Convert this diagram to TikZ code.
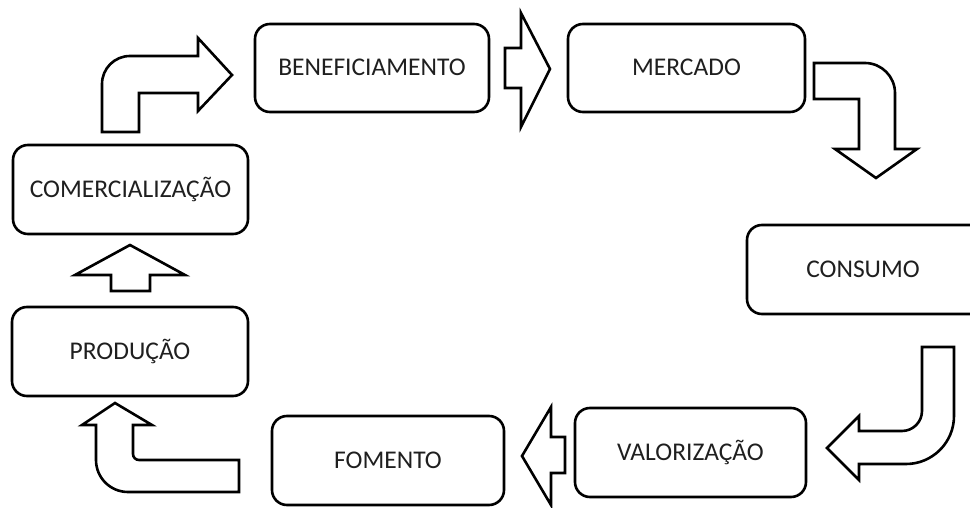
\documentclass[tikz,border=0pt]{standalone}
\usepackage{fontspec}
\setmainfont{Carlito}
\begin{document}
\begin{tikzpicture}[x=1pt,y=-1pt,
  box/.style={draw, line width=2.6pt, rounded corners=15pt, align=center,
    font=\fontsize{25.5}{30}\selectfont, inner sep=0pt, text=black!88,
    text height=16pt, text depth=0pt},
  blk/.style={draw, line width=2.6pt, line join=miter, fill=white}]
\useasboundingbox (0,0) rectangle (970,508);
\clip (0,0) rectangle (970,508);
% boxes
\node[box, minimum width=234pt, minimum height=88pt] (ben) at (372,68) {BENEFICIAMENTO};
\node[box, minimum width=237pt, minimum height=88pt] (mer) at (686.5,68) {MERCADO};
\node[box, minimum width=240pt, minimum height=89pt] (con) at (867,269.5) {};
\node[text=black!88, font=\fontsize{25.5}{30}\selectfont, inner sep=0pt, text height=16pt, text depth=0pt] (contxt) at (863,269.5) {CONSUMO};
\node[box, minimum width=231pt, minimum height=89pt] (val) at (690.5,452.5) {VALORIZAÇÃO};
\node[box, minimum width=232pt, minimum height=89pt] (fom) at (388,460.5) {FOMENTO};
\node[box, minimum width=236pt, minimum height=89pt] (pro) at (130,351.5) {PRODUÇÃO};
\node[box, minimum width=235pt, minimum height=89pt] (com) at (130.5,189.5) {COMERCIALIZAÇÃO};
% block arrows
% 1: bent up-right
\draw[blk] (102,132) -- (102,84) .. controls (102,68.5) and (114.5,56) .. (130,56)
  -- (198,56) -- (198,38) -- (232,75) -- (198,111) -- (198,93) -- (139,93) -- (139,132) -- cycle;
% 2: right
\draw[blk] (505,48) -- (521,48) -- (521,13) -- (550,69) -- (521,127) -- (521,88) -- (505,88) -- cycle;
% 3: bent down
\draw[blk] (814,63) -- (865,63) .. controls (881.5,63) and (895,76.5) .. (895,93)
  -- (895,149) -- (917,149) -- (876,178) -- (835,149) -- (859,149) -- (859,99) -- (814,99) -- cycle;
% 4: bent left
\draw[blk] (922,347) -- (954,347) -- (954,416) .. controls (954,442.5) and (932.5,464) .. (906,464)
  -- (859,464) -- (859,480) -- (827,448) -- (859,416) -- (859,431) -- (902,431)
  .. controls (913,431) and (922,422) .. (922,411) -- cycle;
% 5: left
\draw[blk] (565,437) -- (551,437) -- (551,407) -- (522,456) -- (551,505) -- (551,473) -- (565,473) -- cycle;
% 6: bent up
\draw[blk] (239,492) -- (128,492) .. controls (110.3,492) and (96,477.7) .. (96,460)
  -- (96,425) -- (82,425) -- (115,403) -- (152,425) -- (133,425) -- (133,454)
  .. controls (133,457.3) and (135.7,460) .. (139,460) -- (239,460) -- cycle;
% 7: up
\draw[blk] (111,291) -- (111,275) -- (75,275) -- (130,245) -- (185,275) -- (150,275) -- (150,291) -- cycle;
\end{tikzpicture}
\end{document}
